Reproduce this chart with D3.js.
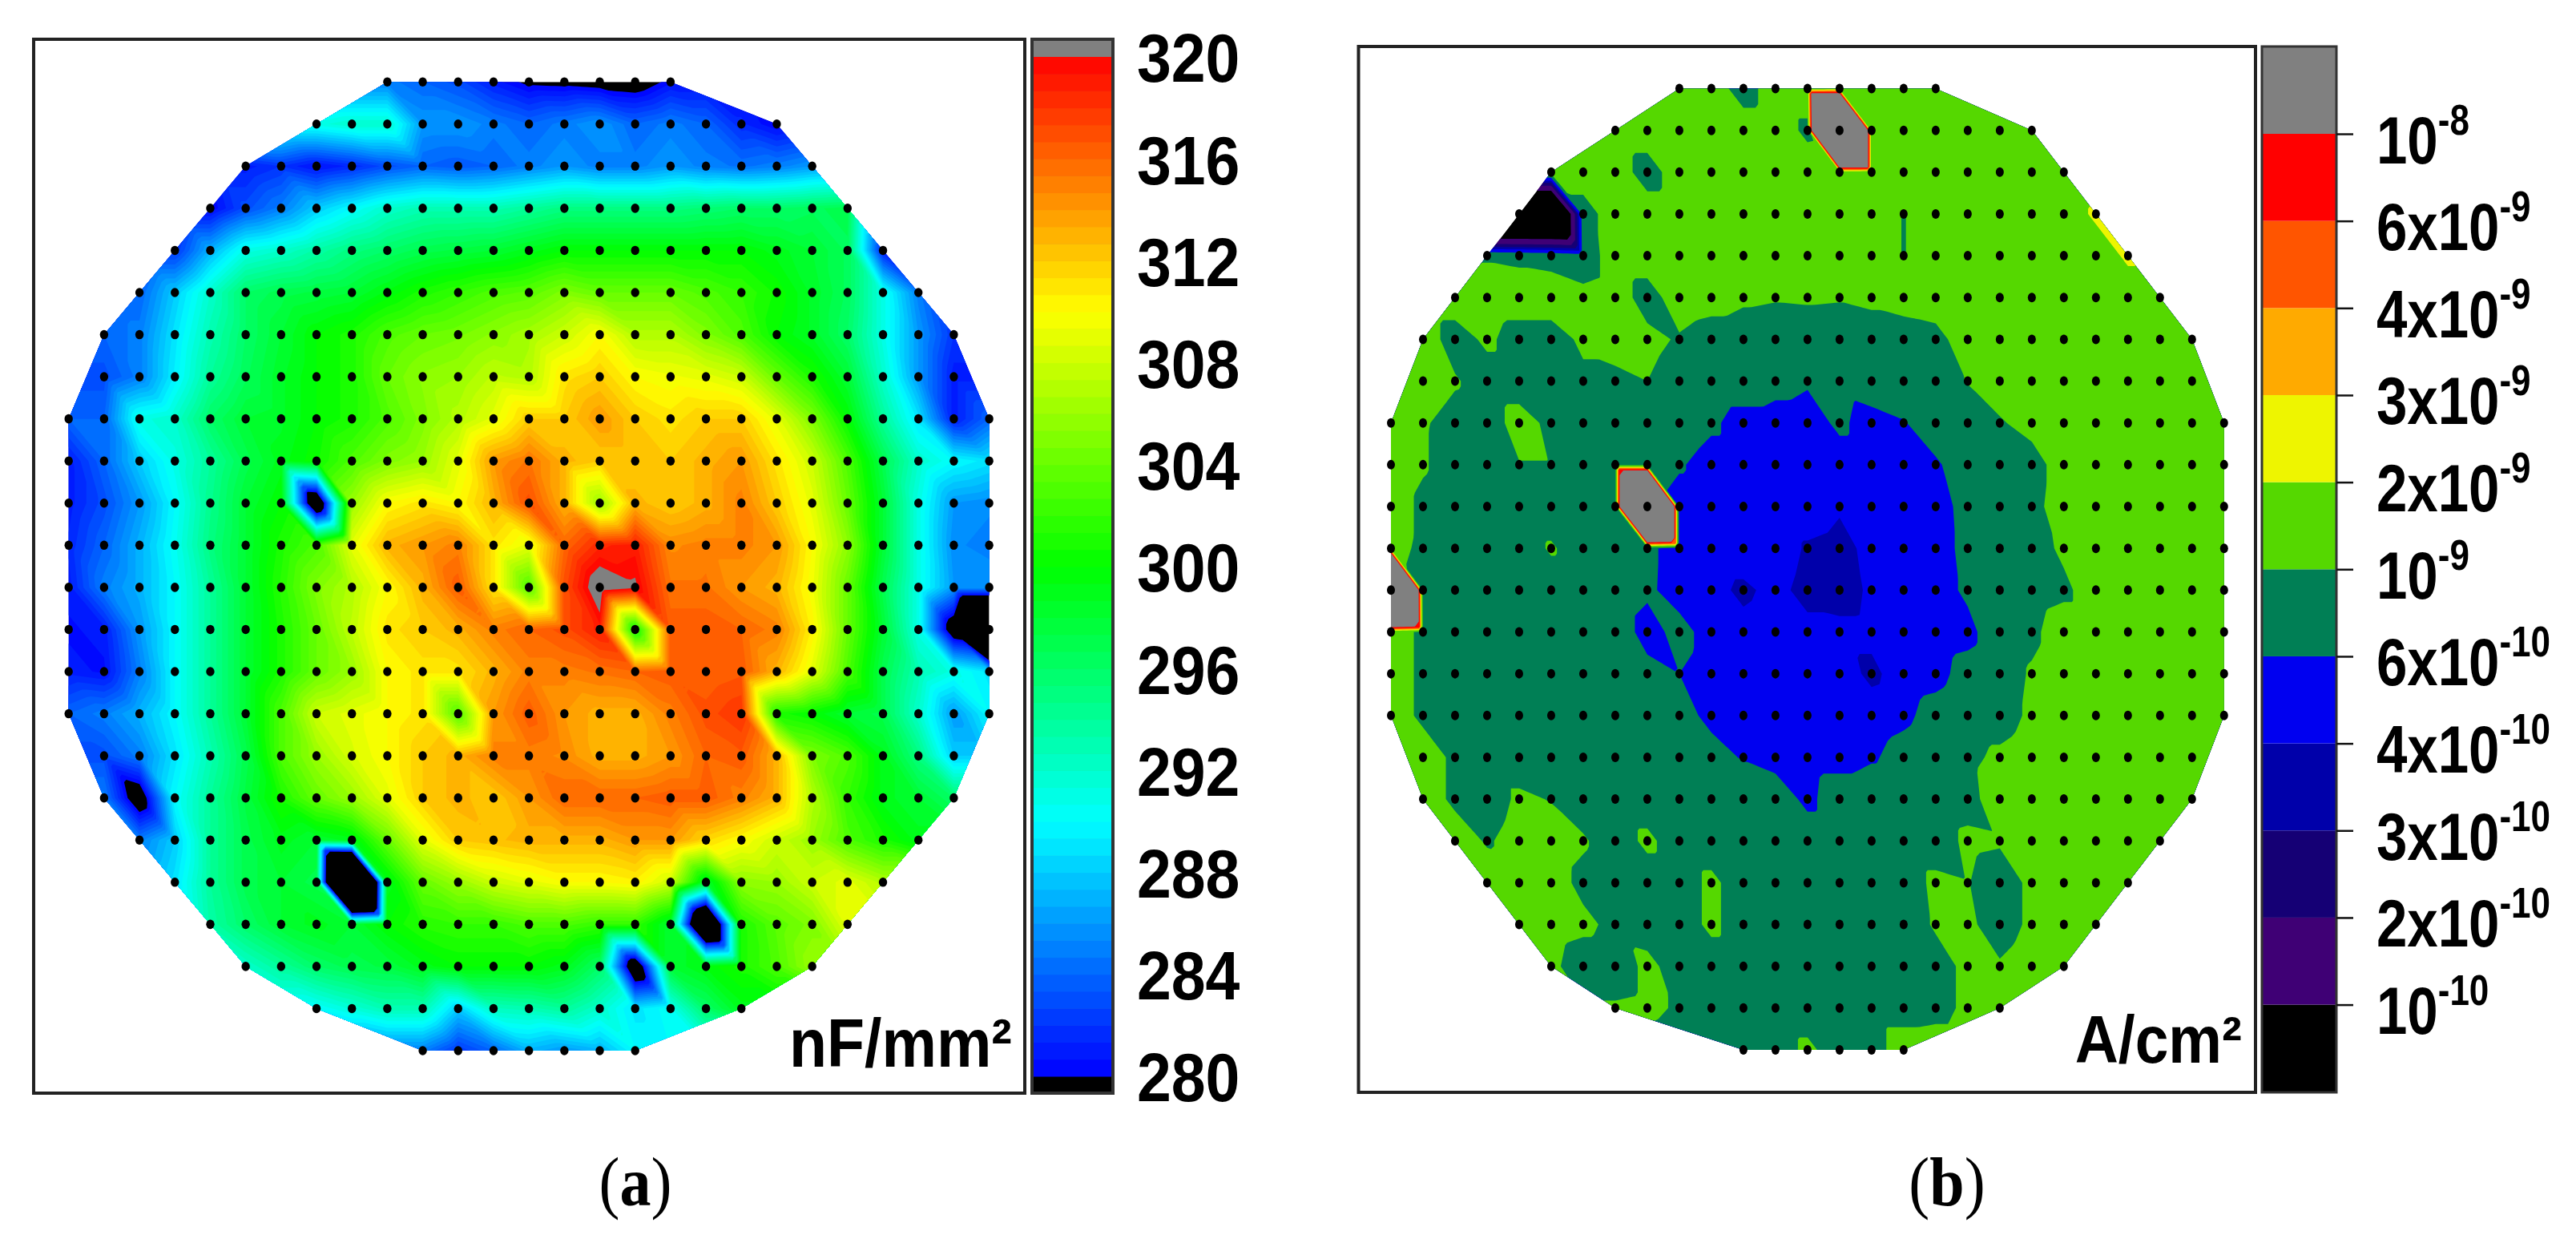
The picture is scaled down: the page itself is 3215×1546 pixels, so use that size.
<!DOCTYPE html>
<html>
<head>
<meta charset="utf-8">
<title>Wafer maps</title>
<script src="https://cdn.jsdelivr.net/npm/d3@7"></script>
<style>
    body { margin: 0; background: #fff; }
    svg { display: block; }
    text { font-family: "Liberation Sans", Arial, sans-serif; font-weight: bold; fill: #000; }
</style>
</head>
<body>
<svg id="chart" width="3215" height="1546"></svg>
<script>
// first measured column of each of the 24 wafer rows
const capFirstCol = [9, 7, 5, 4, 3, 2, 1, 1, 0, 0, 0, 0, 0, 0, 0, 0, 1, 1, 2, 3, 4, 5, 7, 10];
const leakFirstCol = [9, 7, 5, 4, 3, 2, 1, 1, 0, 0, 0, 0, 0, 0, 0, 0, 1, 1, 2, 3, 4, 5, 7, 11];

// (a) capacitance density per site, nF/mm2
const capRows = [
    [285, 284, 283, 281, 279.6, 279.4, 279, 278.6, 280.5],
    [291, 292, 292, 286, 286, 285, 284, 285, 286, 284, 285, 284, 281.5, 280],
    [281, 282, 280.5, 281.5, 283, 284, 283.5, 284, 285, 286, 285, 285, 286, 285, 284.5, 285, 286],
    [280, 283, 285, 288, 290, 292, 293, 293, 293, 294, 295, 295, 295, 295, 295.5, 296, 296, 296.5, 297],
    [282, 287, 291, 292, 293.5, 295, 296, 297, 297.5, 298, 299, 300, 300, 300, 300, 300, 300, 299, 298, 296.5, 281],
    [284, 288, 292, 296, 297, 297.5, 298, 299.5, 301, 302, 303, 303.5, 305, 304, 304, 304, 303, 302, 300.5, 298.5, 296.5, 291, 285],
    [284, 285, 289, 293, 296, 298, 300, 301, 303, 304, 304.5, 305.5, 306.5, 308, 310, 307, 307, 305, 303, 300, 298.5, 296, 291, 286, 282],
    [283, 285, 289.5, 294, 296.5, 298.5, 300, 301, 304, 305.5, 306, 307.5, 307, 311, 312, 310, 309.5, 309, 308, 304, 301, 298, 292, 286, 281],
    [284, 284, 291, 292, 296, 298, 298.5, 300, 301, 303, 305, 307, 309, 312, 312, 314, 312, 311, 312, 312, 309, 305, 300, 294, 289, 281, 284],
    [281, 284, 288, 291, 294, 297, 299, 300.5, 303, 305, 306, 309, 314, 315.5, 313, 312, 312, 312, 313, 314, 311, 308, 303, 297, 292, 290, 289],
    [281, 283, 286, 290, 294.5, 298, 300, 273, 306, 310, 311, 310, 313, 317, 313, 306, 313, 312, 313, 315, 312, 309, 304, 298, 291, 286, 285.5],
    [281.5, 284, 287, 290.5, 295, 298, 301, 303, 309, 313, 314, 315, 311, 309, 316, 318.5, 319, 314.5, 315, 315, 314, 310, 305.5, 298, 291, 285.5, 285],
    [281, 285, 287, 290, 294, 298, 301.5, 305, 307, 310, 313, 316.5, 311, 303, 317, 321.5, 320.3, 315.5, 315.5, 314, 313, 309.5, 304, 297, 291, 286, 286],
    [280.5, 281, 286, 290, 294, 298, 301, 304, 307.5, 311, 312, 313, 315, 316, 317, 319, 300, 316.5, 316.5, 316, 315, 310.5, 304, 298, 291, 277, 255],
    [281, 280.5, 285, 290, 294, 298, 301, 304, 306, 310, 311, 311, 313, 315, 315, 315.5, 316, 316.5, 316, 316.5, 313, 309, 303, 297, 293, 291, 289],
    [284, 285, 287, 290, 294, 298, 303, 308, 309, 310, 311, 303, 314, 316.5, 314, 313, 313, 315, 317, 318, 301, 300, 298, 297, 292, 286, 290],
    [283, 285, 289, 293, 297, 303, 306, 308.5, 310, 312, 313, 315, 315, 314.5, 313, 313, 314, 316, 316.5, 313, 305, 303, 299, 295, 288],
    [285, 277.5, 290, 294, 297.5, 301, 304, 306, 309, 312, 313, 312, 314, 316, 316, 316, 316.5, 316.5, 315, 313, 307, 302, 299, 298, 296],
    [285, 288, 294, 297, 299, 298, 299, 304, 309, 312, 312.5, 313, 313, 313, 314, 314, 311.5, 310, 308, 306, 303, 301, 299],
    [289, 294, 297, 298, 297, 232, 299, 304, 306, 308, 309, 310, 310, 310.5, 308, 298, 305.5, 306, 308, 309, 307],
    [293.5, 296, 298, 299, 298, 300, 301.5, 302, 302, 303, 303, 302, 302, 298, 265, 301, 303.5, 305, 309],
    [292, 294, 296, 297, 297.5, 299, 300, 300, 300, 299, 296, 275, 298, 299.5, 301, 303, 306],
    [290, 291.5, 293, 293, 288, 292.5, 293, 294, 292, 289, 290.5, 296, 299],
    [285, 282, 284, 287, 286, 287, 290]
];

// (b) leakage per site, in units of 1e-10 A/cm2
const leakRows = [
    [13, 13, 8, 13, 13, 14, 13, 13, 13],
    [13, 13, 13, 13, 13, 13, 9, 1e9, 13, 13, 13, 13, 13, 13],
    [13, 13, 13, 8, 13, 13, 13, 13, 13, 14, 13, 13, 13, 13, 13, 13, 13],
    [0.04, 0.04, 8, 13, 13, 13, 13, 13, 13, 13, 13, 13, 9.8, 13, 13, 13, 13, 13, 23],
    [9.5, 9, 8.5, 7.5, 13, 13, 13, 13, 13, 13, 13, 13, 13, 9.8, 13, 13, 13, 13, 13, 13, 23],
    [13, 13, 13, 13, 11.5, 13, 8, 13, 12, 10.7, 10.3, 10.5, 10.3, 11, 12, 13, 13, 13, 13, 13, 13, 13, 13],
    [13, 8, 11, 8, 8, 11, 12, 11.5, 9.5, 8, 8, 8, 8, 8, 8, 8, 8.5, 13, 13, 13, 13, 13, 13, 13, 13],
    [13, 10.5, 8, 8, 8.5, 9, 9, 10, 8, 8, 8, 7, 6.3, 7, 8, 8, 8.5, 10.2, 13, 13, 13, 13, 13, 13, 13],
    [13, 10.5, 8.5, 8, 12, 9, 8, 8, 8, 8, 6.5, 5, 5, 5, 6.5, 5, 5.8, 8, 8, 9.5, 12, 13, 13, 13, 13, 13, 13],
    [13, 10.5, 8, 8, 9.8, 9.8, 8, 8, 8, 6.3, 5, 5, 5, 5, 5, 5, 5, 5.6, 8, 8, 8, 13, 13, 13, 13, 13, 13],
    [13, 9, 8, 8, 8, 8, 8, 8, 1e9, 5, 5, 5, 5, 5, 4.2, 5, 5, 5, 7, 8, 8.5, 13, 13, 13, 13, 13, 13],
    [12, 9, 8, 8, 8, 10.5, 8, 8, 6.6, 5, 5, 5, 5, 3.8, 3.5, 4.5, 5, 5, 6.8, 8, 8, 11, 13, 13, 13, 13, 13],
    [1e9, 8, 8, 8, 8, 8, 8, 8, 6.5, 5, 4.5, 3.7, 4.5, 3.5, 3.3, 4.3, 5, 5, 6.5, 8, 8, 9, 13, 13, 13, 13, 13],
    [13, 9, 8, 8, 8, 8, 8, 8, 5, 7, 5, 4.5, 5, 4.5, 4.5, 4.5, 5, 5, 5.3, 8, 9, 13, 13, 13, 13, 13, 13],
    [13, 9, 8, 8, 8, 8, 8, 8, 7, 6, 5, 5, 5, 5, 5, 3.6, 5, 5.3, 7, 8, 10.5, 13, 13, 13, 13, 13, 13],
    [13, 9, 8, 10.3, 8, 8, 8, 8, 8, 7, 5.4, 5, 5, 5, 5, 5, 5.5, 7, 8, 8, 11, 13, 13, 13, 13, 13, 13],
    [13, 9, 8, 8, 8, 8, 8, 8, 8, 7, 5.8, 5, 5, 5, 5.7, 7, 8, 9, 11, 13, 13, 13, 13, 13, 13],
    [13, 9, 8, 10.8, 9.8, 8, 8, 8, 8, 8, 8, 8, 5.3, 8, 8, 8, 8, 8.5, 13, 13, 13, 13, 13, 13, 13],
    [13, 9.5, 12, 12, 10.5, 8, 11, 8, 8, 8, 8, 8, 8, 8, 8, 8, 11, 10.5, 13, 13, 13, 13, 13],
    [13, 12, 12, 9, 8, 8, 8, 11, 8, 8, 8, 8, 8, 8, 11, 10.2, 8, 11, 13, 13, 13],
    [13, 12, 11, 9, 8.5, 8, 11, 8, 8, 8, 8, 8, 8, 10.5, 11, 8, 11, 13, 13],
    [11, 8, 8, 11, 8.5, 8, 8, 8, 8, 8, 8, 8, 8.5, 11, 10.5, 13, 13],
    [10.5, 11, 9.5, 8, 8, 8, 8, 8, 8, 8, 8.5, 11, 13],
    [8, 8, 11, 8, 8, 13]
];

// colour bar (a)
const capTicks = [320, 316, 312, 308, 304, 300, 296, 292, 288, 284, 280];
const capStops = [280, 290, 300, 310, 320];
const capStopColors = ['#0000ff', '#00ffff', '#00ff00', '#ffff00', '#ff0000'];
const capBandCount = 60;

// colour bar (b), bands between ticks, bottom to top
const leakTicks = [1, 2, 3, 4, 6, 10, 20, 30, 40, 60, 100];
const leakCoef = ['', '2x', '3x', '4x', '6x', '', '2x', '3x', '4x', '6x', ''];
const leakExp = ['-10', '-10', '-10', '-10', '-10', '-9', '-9', '-9', '-9', '-9', '-8'];
const leakColors = ['#3f0075', '#150075', '#0000aa', '#0000f0', '#007f55', '#55d800', '#eef500', '#ffaa00', '#ff5500', '#ff0000', '#808080'];

const UNDER = '#000000';
const OVER = '#808080';
const COLS = 27;
const ROWS = 24;
const FINE = 8; // contour sub-steps per wafer site

const svg = d3.select('#chart');

// pad each row to a full grid; the pad is hidden by the wafer clip
function fullGrid(rows, firstCol, f) {
    const grid = [];
    rows.forEach((row, r) => {
        for (let c = 0; c < COLS; c++) {
            const i = Math.max(0, Math.min(row.length - 1, c - firstCol[r]));
            grid.push(f(row[i]));
        }
    });
    return grid;
}

// the original map is a triangle mesh: every cell is split along its \ diagonal.
// Sample that mesh finer so d3.contours follows the triangles, not the cell squares.
function meshGrid(grid) {
    const at = (c, r) => grid[Math.min(r, ROWS - 1) * COLS + Math.min(c, COLS - 1)];
    const fine = [];
    for (let j = 0; j <= (ROWS - 1) * FINE; j++) {
        for (let i = 0; i <= (COLS - 1) * FINE; i++) {
            const c = Math.floor(i / FINE), r = Math.floor(j / FINE);
            const fx = i / FINE - c, fy = j / FINE - r;
            if (fx >= fy) {
                fine.push(at(c, r) + fx * (at(c + 1, r) - at(c, r)) + fy * (at(c + 1, r + 1) - at(c + 1, r)));
            } else {
                fine.push(at(c, r) + fy * (at(c, r + 1) - at(c, r)) + fx * (at(c + 1, r + 1) - at(c, r + 1)));
            }
        }
    }
    return fine;
}

function drawWafer(id, rows, firstCol, box, x, y, thresholds, colors, grid, dot) {
    const g = svg.append('g');

    // measurement sites
    const sites = [];
    rows.forEach((row, r) => row.forEach((v, i) => sites.push([firstCol[r] + i, r])));

    // wafer outline is the hull of the sites
    const outline = d3.polygonHull(sites.map(d => [x(d[0]), y(d[1])]));

    svg.append('clipPath').attr('id', id)
        .append('polygon')
        .attr('points', outline.join(' '));

    const plot = g.append('g').attr('clip-path', `url(#${id})`);
    plot.append('polygon').attr('points', outline.join(' ')).attr('fill', UNDER);

    // d3.contours puts sample i at coordinate i + 0.5
    const path = d3.geoPath(d3.geoTransform({
        point(px, py) { this.stream.point(x((px - 0.5) / FINE), y((py - 0.5) / FINE)); }
    }));
    const contours = d3.contours()
        .size([(COLS - 1) * FINE + 1, (ROWS - 1) * FINE + 1])
        .thresholds(thresholds)(meshGrid(grid));

    plot.selectAll('path')
        .data(contours)
        .enter()
        .append('path')
        .attr('d', path)
        .attr('fill', (d, i) => colors[i]);

    g.selectAll('ellipse')
        .data(sites)
        .enter()
        .append('ellipse')
        .attr('cx', d => x(d[0]))
        .attr('cy', d => y(d[1]))
        .attr('rx', dot[0])
        .attr('ry', dot[1])
        .attr('fill', '#000');

    g.append('rect')
        .attr('x', box[0]).attr('y', box[1])
        .attr('width', box[2] - box[0]).attr('height', box[3] - box[1])
        .attr('fill', 'none')
        .attr('stroke', '#222')
        .attr('stroke-width', 4);
}

function stretched(sel, tx, ty, sy, size) {
    return sel.attr('transform', `translate(${tx},${ty}) scale(1,${sy})`)
        .style('font-size', size + 'px');
}

// ---- panel (a)
const capX = d3.scaleLinear([0, 26], [85.7, 1234.6]);
const capY = d3.scaleLinear([0, 23], [102.2, 1311]);
const capColor = d3.scaleLinear(capStops, capStopColors);
const capStep = (capStops[4] - capStops[0]) / capBandCount;
const capThresholds = d3.range(capBandCount + 1).map(i => capStops[0] + i * capStep);
const capColors = capThresholds.map((t, i) => i < capBandCount ? capColor(t + capStep / 2) : OVER);

drawWafer('clip-a', capRows, capFirstCol, [42, 49, 1279, 1364], capX, capY,
    capThresholds, capColors, fullGrid(capRows, capFirstCol, v => v), [5.2, 5.8]);

const capBarY = d3.scaleLinear([280, 320], [1343, 71]);
const capBar = svg.append('g');
capBar.append('rect').attr('x', 1288).attr('y', 49).attr('width', 101).attr('height', 1315).attr('fill', OVER);
capBar.append('rect').attr('x', 1288).attr('y', capBarY(280)).attr('width', 101).attr('height', 1364 - capBarY(280)).attr('fill', UNDER);
capBar.selectAll('.band')
    .data(capThresholds.slice(0, -1))
    .enter()
    .append('rect')
    .attr('class', 'band')
    .attr('x', 1288)
    .attr('width', 101)
    .attr('y', d => capBarY(d + capStep))
    .attr('height', capBarY(280) - capBarY(280 + capStep) + 0.5)
    .attr('fill', (d, i) => capColors[i]);
capBar.append('rect').attr('x', 1288).attr('y', 49).attr('width', 101).attr('height', 1315)
    .attr('fill', 'none').attr('stroke', '#333').attr('stroke-width', 4);

svg.append('g')
    .attr('transform', 'translate(1389,0)')
    .call(d3.axisRight(capBarY).tickValues(capTicks).tickSize(0).tickFormat(d3.format('d')))
    .call(a => a.select('.domain').remove())
    .call(a => a.selectAll('text')
        .attr('x', 30)
        .attr('dy', null)
        .attr('y', 27.6)
        .attr('transform', 'scale(1,1.117)')
        .style('font-size', '77px')
        .style('font-family', '"Liberation Sans", Arial, sans-serif'));

stretched(svg.append('text').attr('text-anchor', 'end').text('nF/mm²'), 1263, 1331, 1.1, 77);

// ---- panel (b)
const leakX = d3.scaleLinear([0, 26], [1736, 2775.8]);
const leakY = d3.scaleLinear([0, 23], [110.5, 1310]);

drawWafer('clip-b', leakRows, leakFirstCol, [1695.5, 58, 2815, 1363], leakX, leakY,
    leakTicks.map(Math.log10), leakColors, fullGrid(leakRows, leakFirstCol, Math.log10), [5, 6]);

const leakBarY = d3.scalePoint(leakTicks, [1253.6, 167]);
const leakBar = svg.append('g');
leakBar.append('rect').attr('x', 2823).attr('y', leakBarY(1)).attr('width', 93).attr('height', 1363 - leakBarY(1)).attr('fill', UNDER);
leakBar.selectAll('.band')
    .data(leakTicks)
    .enter()
    .append('rect')
    .attr('class', 'band')
    .attr('x', 2823)
    .attr('width', 93)
    .attr('y', (d, i) => i < 10 ? leakBarY(leakTicks[i + 1]) : 58)
    .attr('height', (d, i) => leakBarY(d) - (i < 10 ? leakBarY(leakTicks[i + 1]) : 58))
    .attr('fill', (d, i) => leakColors[i]);
leakBar.append('rect').attr('x', 2823).attr('y', 58).attr('width', 93).attr('height', 1305)
    .attr('fill', 'none').attr('stroke', '#333').attr('stroke-width', 3);

svg.append('g')
    .attr('transform', 'translate(2916,0)')
    .call(d3.axisRight(leakBarY).tickSize(21).tickFormat(''))
    .call(a => a.select('.domain').remove())
    .call(a => a.selectAll('line').attr('stroke', '#111').attr('stroke-width', 2.5))
    .call(a => a.selectAll('text').each(function(d, i) {
        const t = d3.select(this)
            .attr('x', 50)
            .attr('dy', null)
            .attr('y', 29.75)
            .attr('transform', 'scale(1,1.21)')
            .style('font-size', '69px')
            .style('font-family', '"Liberation Sans", Arial, sans-serif');
        t.append('tspan').text(leakCoef[i] + '10');
        t.append('tspan').attr('dy', -29.75).style('font-size', '44px').text(leakExp[i]);
    }));

stretched(svg.append('text').attr('text-anchor', 'end').text('A/cm²'), 2798, 1326, 1.1, 75);

// ---- captions
const caption = svg.append('g');
[['a', 793], ['b', 2430]].forEach(([name, cx]) => {
    const t = stretched(caption.append('text').attr('text-anchor', 'middle'), cx, 1504, 1.1, 78)
        .style('font-family', '"Liberation Serif", "Times New Roman", serif')
        .style('font-weight', 'normal');
    t.append('tspan').text('(');
    t.append('tspan').style('font-weight', 'bold').text(name);
    t.append('tspan').text(')');
});
</script>
</body>
</html>
